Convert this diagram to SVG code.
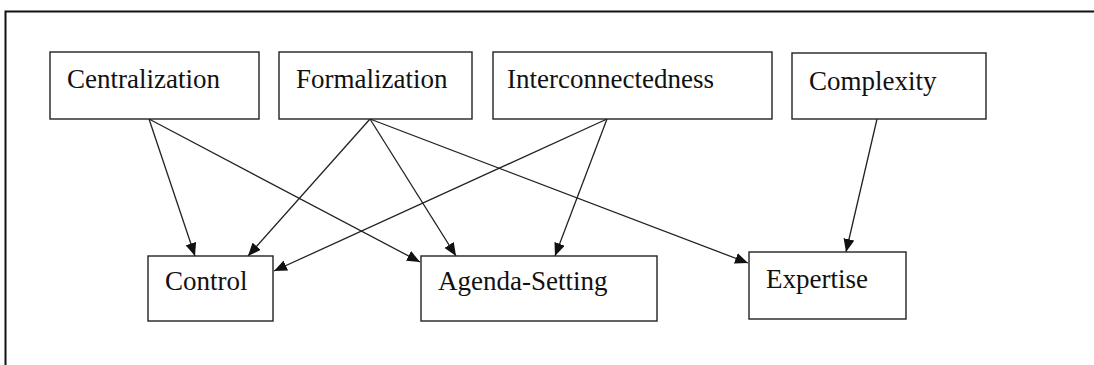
<svg xmlns="http://www.w3.org/2000/svg" width="1094" height="365" viewBox="0 0 1094 365">
<style>
.box{fill:#fff;stroke:#222;stroke-width:1.4}
.lbl{font-family:"Liberation Serif","Times New Roman",serif;font-size:27px;fill:#111}
.edge{stroke:#222;stroke-width:1.3;fill:none;marker-end:url(#ah)}
</style>
<defs>
<marker id="ah" viewBox="0 0 13 11" refX="13" refY="5.5" markerWidth="13" markerHeight="11" markerUnits="userSpaceOnUse" orient="auto">
<path d="M0,0 L13,5.5 L0,11 Z" fill="#111"/>
</marker>
</defs>
<rect width="1094" height="365" fill="#fff"/>
<path d="M5.5,370 V11.5 H1100" fill="none" stroke="#111" stroke-width="2"/>
<g id="connectors">
<line class="edge" x1="149" y1="119" x2="195" y2="256"/>
<line class="edge" x1="149" y1="119" x2="420" y2="262"/>
<line class="edge" x1="370" y1="119" x2="248" y2="256"/>
<line class="edge" x1="370" y1="119" x2="456" y2="256"/>
<line class="edge" x1="370" y1="119" x2="748" y2="263"/>
<line class="edge" x1="607" y1="119" x2="274" y2="271"/>
<line class="edge" x1="607" y1="119" x2="555" y2="256"/>
<line class="edge" x1="877" y1="119" x2="846" y2="252"/>
</g>
<g id="centralization"><rect class="box" x="50" y="52" width="209" height="67"/><text class="lbl" x="67" y="88">Centralization</text></g>
<g id="formalization"><rect class="box" x="279" y="52" width="193" height="67"/><text class="lbl" x="296" y="88">Formalization</text></g>
<g id="interconnectedness"><rect class="box" x="493" y="52" width="279" height="67"/><text class="lbl" x="507" y="88">Interconnectedness</text></g>
<g id="complexity"><rect class="box" x="792" y="53" width="194" height="66"/><text class="lbl" x="809" y="90">Complexity</text></g>
<g id="control"><rect class="box" x="148" y="256" width="125" height="65"/><text class="lbl" x="165" y="290">Control</text></g>
<g id="agenda-setting"><rect class="box" x="421" y="256" width="236" height="65"/><text class="lbl" x="438" y="290">Agenda-Setting</text></g>
<g id="expertise"><rect class="box" x="749" y="252" width="157" height="67"/><text class="lbl" x="766" y="288">Expertise</text></g>
</svg>
